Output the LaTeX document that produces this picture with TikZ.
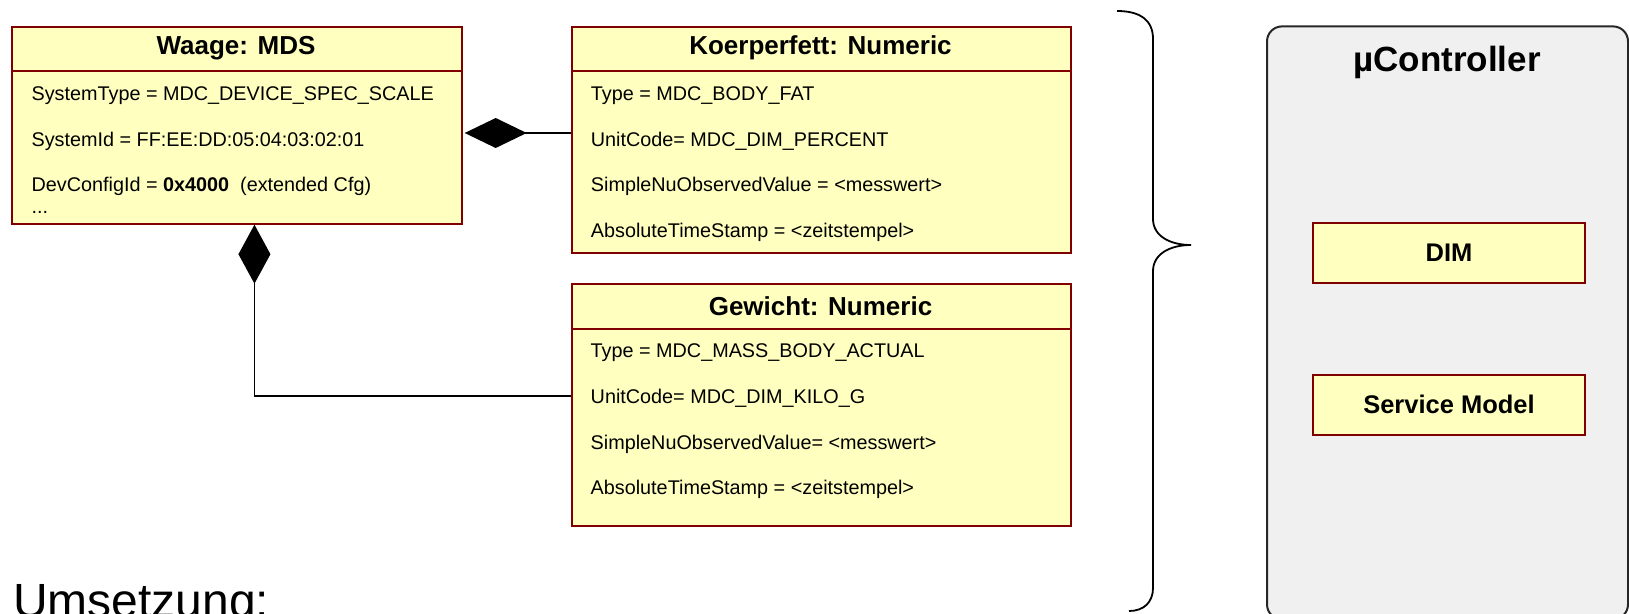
\documentclass[tikz,border=0pt]{standalone}
\usepackage{fontspec}
\setmainfont{Liberation Sans}
\usetikzlibrary{arrows.meta,calc}
\definecolor{umlred}{HTML}{800000}
\definecolor{umlfill}{HTML}{FFFFC0}
\definecolor{ctrlfill}{HTML}{F0F0F0}
\begin{document}
\begin{tikzpicture}[x=1pt,y=-1pt,
  cls/.style={draw=umlred, fill=umlfill, line width=2pt, inner sep=0pt, anchor=north west},
  sepline/.style={draw=umlred, line width=2pt},
  ttl/.style={font=\bfseries\fontsize{26}{30}\selectfont, inner sep=0pt},
  attr/.style={font=\fontsize{19.8}{24}\selectfont, anchor=base west, inner sep=0pt},
  comp/.style={draw=black, line width=1.8pt},
  ctrl/.style={draw=black!85, fill=ctrlfill, line width=2pt, rounded corners=15pt, inner sep=0pt, anchor=north west},
  module/.style={draw=umlred, fill=umlfill, line width=2pt, inner sep=0pt, anchor=north west, font=\bfseries\fontsize{25.5}{30}\selectfont},
]
\useasboundingbox (0,0) rectangle (1629,613);

% --- MDS object ---
\node[cls, minimum width=449.3pt, minimum height=197pt] (waage) at (11.4,25.7) {};
\draw[sepline] (waage.west |- 0,70.7) -- (waage.east |- 0,70.7);
\node[ttl] (waageT) at (236,48.2) {Waage: MDS};
\node[attr] (w1) at (31.4,100.6) {SystemType = MDC\_DEVICE\_SPEC\_SCALE};
\node[attr] (w2) at (31.4,146.6) {SystemId = FF:EE:DD:05:04:03:02:01};
\node[attr] (w3) at (31.4,191.6) {DevConfigId = \textbf{0x4000} \ (extended Cfg)};
\node[attr] (w4) at (31.4,213) {...};

% --- body fat numeric ---
\node[cls, minimum width=499pt, minimum height=226pt] (kf) at (571,25.7) {};
\draw[sepline] (kf.west |- 0,70.7) -- (kf.east |- 0,70.7);
\node[ttl] (kfT) at (820.5,48.2) {Koerperfett: Numeric};
\node[attr] (k1) at (590.7,100.8) {Type = MDC\_BODY\_FAT};
\node[attr] (k2) at (590.7,146.8) {UnitCode= MDC\_DIM\_PERCENT};
\node[attr] (k3) at (590.7,191.8) {SimpleNuObservedValue = <messwert>};
\node[attr] (k4) at (590.7,237.5) {AbsoluteTimeStamp = <zeitstempel>};

% --- weight numeric ---
\node[cls, minimum width=499pt, minimum height=242.3pt] (gw) at (571,282.7) {};
\draw[sepline] (gw.west |- 0,329) -- (gw.east |- 0,329);
\node[ttl] (gwT) at (820.5,306) {Gewicht: Numeric};
\node[attr] (g1) at (590.5,357.5) {Type = MDC\_MASS\_BODY\_ACTUAL};
\node[attr] (g2) at (590.5,403.5) {UnitCode= MDC\_DIM\_KILO\_G};
\node[attr] (g3) at (590.5,449) {SimpleNuObservedValue= <messwert>};
\node[attr] (g4) at (590.5,494) {AbsoluteTimeStamp = <zeitstempel>};

% --- compositions ---
\coordinate (kfIn) at ($(kf.west)+(0,-6.7)$);
\coordinate (gwIn) at ($(gw.west)+(0,-9)$);
\draw[comp, {Diamond[length=62pt,width=30pt]}-, shorten <=2pt] (waage.east |- kfIn) -- (kfIn);
\draw[comp, {Diamond[length=59pt,width=32pt]}-] ($(waage.south)+(17.4,0)$) |- (gwIn);

% --- curly brace ---
\draw[line width=1.8pt] (1117,11) .. controls (1140,11) and (1153,20) .. (1153,39)
  -- (1153,219) .. controls (1153,236) and (1170,245) .. (1191,245)
  .. controls (1170,245) and (1153,254) .. (1153,271)
  -- (1153,588) .. controls (1153,602) and (1144,611) .. (1129,611);

% --- controller ---
\node[ctrl, minimum width=361pt, minimum height=593pt] (uc) at (1266,25.4) {};
\node[font=\bfseries\fontsize{35}{40}\selectfont, inner sep=0pt] (ucT) at (1447,62.6) {µController};
\node[module, minimum width=272pt, minimum height=60.4pt] (dim) at (1312,222) {DIM};
\node[module, minimum width=272pt, minimum height=60.5pt] (sm) at (1312,373.5) {Service Model};

% --- caption (runs past the lower edge) ---
\node[anchor=base west, font=\fontsize{48}{58}\selectfont, inner sep=0pt] (ums) at (13,617) {Umsetzung:};
\end{tikzpicture}
\end{document}
